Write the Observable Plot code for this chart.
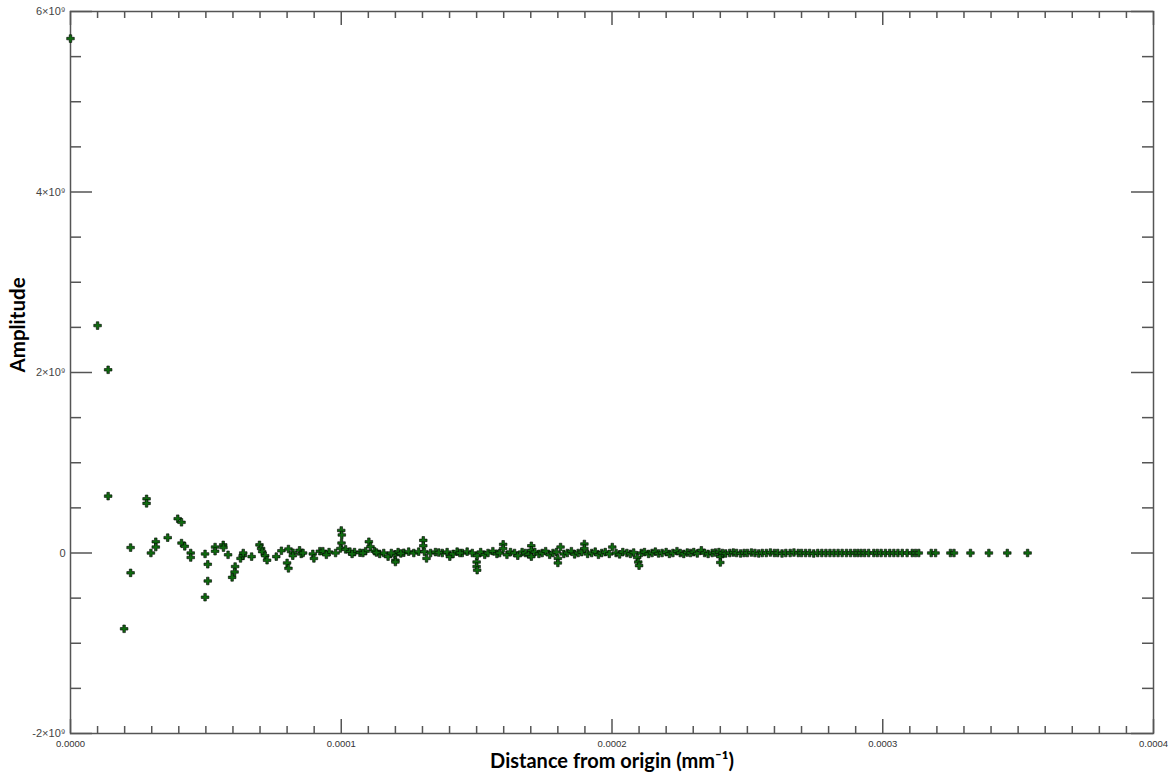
<!DOCTYPE html>
<html>
<head>
<meta charset="utf-8">
<script src="https://cdn.jsdelivr.net/npm/d3@7"></script>
<script src="https://cdn.jsdelivr.net/npm/@observablehq/plot@0.6"></script>
<style>
  html, body { margin: 0; padding: 0; background: #fff; }
  #chart svg { display: block; }
</style>
</head>
<body>
<div id="chart"></div>
<script>
// Distance from origin, in units of 1e-5 mm^-1 ; amplitude in units of 1e9
const earlyDist = [
  0, 1.00, 1.39, 1.39, 1.98, 2.22, 2.22, 2.81, 2.81, 2.97,
  3.15, 3.15, 3.59, 3.96, 4.10, 4.10, 4.22, 4.44, 4.44, 4.97,
  5.07, 5.07, 4.97, 5.34, 5.34, 5.64, 5.65, 5.82, 6.08, 6.06,
  5.97, 6.28, 6.36, 6.38, 6.69, 6.98, 7.04, 7.08, 7.19, 7.26,
  7.60, 7.79, 8.05, 8.22, 8.21, 8.00, 8.05, 8.46, 8.52, 8.59,
  8.95, 8.99, 9.21, 9.32, 9.55, 9.79, 10.00, 10.02, 10.01, 9.97,
  10.16, 10.32, 10.49, 10.69, 10.90, 11.02, 11.08, 11.23, 11.42, 11.57,
  11.73, 11.98, 12.00, 12.00, 12.10, 12.31, 12.49, 12.68, 12.86, 13.03,
  13.03, 13.07, 13.15, 13.30, 13.48, 13.73, 13.91, 14.01, 14.13, 14.28,
  14.47, 14.65, 14.84, 15.00, 15.00, 15.02, 15.02,
  9.45, 10.40, 10.80, 11.30, 11.85, 12.20, 13.60, 14.38
];
const earlyAmp = [
  5.70, 2.52, 2.03, 0.63, -0.84, 0.06, -0.22, 0.60, 0.55, 0.00,
  0.125, 0.066, 0.17, 0.38, 0.34, 0.11, 0.074, 0.00, -0.05, -0.01,
  -0.125, -0.31, -0.49, 0.066, 0.02, 0.09, 0.06, -0.02, -0.15, -0.21,
  -0.27, -0.06, -0.03, 0.00, -0.04, 0.09, 0.05, 0.015, -0.03, -0.08,
  -0.04, 0.025, 0.044, 0.003, -0.03, -0.11, -0.17, 0.03, -0.01, 0.00,
  -0.01, -0.06, 0.02, 0.02, 0.01, 0.00, 0.25, 0.20, 0.11, 0.05,
  0.04, 0.015, 0.01, 0.003, 0.02, 0.125, 0.07, 0.02, -0.01, 0.00,
  -0.04, -0.015, -0.08, -0.10, 0.01, 0.003, 0.015, 0.00, 0.015, 0.14,
  0.08, 0.015, -0.06, 0.00, 0.01, 0.00, 0.01, -0.04, -0.01, 0.015,
  0.00, 0.015, 0.00, -0.10, -0.15, -0.19, -0.03,
  -0.02, -0.01, 0.00, 0.005, 0.00, -0.005, 0.005, 0.00
];
const midDist = [
  15.15, 15.30, 15.42, 15.60, 15.75, 15.85, 15.98, 15.98, 16.12, 16.25,
  16.40, 16.52, 16.68, 16.80, 16.92, 17.02, 17.02, 17.02, 17.15, 17.30,
  17.42, 17.55, 17.70, 17.82, 17.95, 18.00, 18.00, 18.10, 18.22, 18.35,
  18.50, 18.62, 18.75, 18.88, 18.98, 18.98, 19.10, 19.25, 19.38, 19.50,
  19.62, 19.75, 19.90, 20.01, 20.15, 20.28, 20.40, 20.55, 20.68, 20.80,
  20.93, 20.97, 21.00, 21.08, 21.20, 21.35, 21.48, 21.60, 21.72, 21.85,
  22.00, 22.12, 22.25, 22.40, 22.52, 22.65, 22.78, 22.90, 23.02, 23.15,
  23.30, 23.42, 23.55, 23.70, 23.82, 23.95, 24.00, 24.00, 24.08, 24.20,
  24.35, 24.48, 24.60, 24.75, 24.88, 25.00, 25.15, 25.28, 25.42, 25.55,
  25.70, 25.85, 26.00, 26.12, 26.28, 26.42, 26.58, 26.72, 26.88, 27.00,
  27.15, 27.30, 27.45, 27.60, 27.75, 27.90, 28.05, 28.20, 28.35
];
const midAmp = [
  0.01, -0.02, 0.00, 0.02, -0.01, 0.00, 0.096, 0.05, -0.02, 0.01,
  0.00, -0.03, 0.01, 0.00, -0.015, 0.08, 0.03, -0.04, 0.01, -0.01,
  0.00, 0.02, -0.02, 0.00, 0.01, -0.06, -0.11, 0.066, -0.01, 0.00,
  0.02, -0.015, 0.00, 0.01, 0.10, 0.05, -0.01, 0.00, 0.015, -0.02,
  0.00, 0.01, -0.01, 0.066, 0.00, -0.015, 0.01, 0.00, -0.01, 0.005,
  -0.05, -0.10, -0.14, 0.00, 0.01, -0.01, 0.00, 0.015, -0.005, 0.00,
  0.01, -0.01, 0.00, 0.02, 0.00, -0.01, 0.005, 0.00, 0.01, -0.005,
  0.03, 0.00, -0.01, 0.00, 0.005, 0.01, -0.04, -0.105, 0.00, -0.005,
  0.00, 0.005, 0.00, -0.005, 0.00, 0.00, 0.005, 0.00, -0.005, 0.00,
  0.00, 0.005, 0.00, 0.00, -0.005, 0.00, 0.00, 0.005, 0.00, 0.00,
  0.00, 0.00, -0.005, 0.00, 0.00, 0.00, 0.00, 0.00, 0.00
];
const tailDist = [
  28.50, 28.66, 28.81, 28.96, 29.08, 29.20, 29.33, 29.48, 29.67, 29.80,
  29.94, 30.10, 30.26, 30.41, 30.56, 30.72, 30.90, 31.09, 31.21, 31.33,
  31.79, 31.95, 32.50, 32.63, 33.24, 33.92, 34.60, 35.35
];
const tailAmp = [
  0, 0, 0, 0, 0, 0, 0, 0, 0, 0,
  0, 0, 0, 0, 0, 0, 0, 0, 0, 0,
  0, 0, 0, 0, 0, 0, 0, 0
];

const xMajorTicks = [0, 0.0001, 0.0002, 0.0003, 0.0004];
const yMajorTicks = [-2e9, 0, 2e9, 4e9, 6e9];
const xTitle = "Distance from origin (mm⁻¹)";
const yTitle = "Amplitude";

const dists = [...earlyDist, ...midDist, ...tailDist];
const amps = [...earlyAmp, ...midAmp, ...tailAmp];
const points = dists.map((d, i) => ({dist: d * 1e-5, amp: amps[i] * 1e9}));

const xMinorTicks = d3.range(0, 41).map(i => i * 1e-5).filter(v => !xMajorTicks.some(m => Math.abs(m - v) < 1e-9));
const yMinorTicks = d3.range(-4, 13).map(i => i * 0.5e9).filter(v => !yMajorTicks.includes(v));

const W = 1174, H = 778, ML = 70, MR = 21, MT = 11, MB = 45;
const FW = W - ML - MR, FH = H - MT - MB;
const tickColor = "#555";

const fmtY = d => d === 0 ? "0" : `${d / 1e9}×10⁹`;

const chart = Plot.plot({
  width: W, height: H,
  marginLeft: ML, marginRight: MR, marginTop: MT, marginBottom: MB,
  style: {background: "#fff", fontFamily: "Liberation Sans, Arial, sans-serif"},
  x: {domain: [0, 0.0004]},
  y: {domain: [-2e9, 6e9]},
  marks: [
    Plot.ruleY(yMajorTicks, {stroke: tickColor, strokeWidth: 1.5, insetRight: FW - 22}),
    Plot.ruleY(yMinorTicks, {stroke: tickColor, strokeWidth: 1.5, insetRight: FW - 11}),
    Plot.ruleY(yMajorTicks, {stroke: tickColor, strokeWidth: 1.5, insetLeft: FW - 22}),
    Plot.ruleY(yMinorTicks, {stroke: tickColor, strokeWidth: 1.5, insetLeft: FW - 11}),
    Plot.ruleX(xMajorTicks, {stroke: tickColor, strokeWidth: 1.5, insetTop: FH - 14}),
    Plot.ruleX(xMinorTicks, {stroke: tickColor, strokeWidth: 1.5, insetTop: FH - 7}),
    Plot.ruleX(xMajorTicks, {stroke: tickColor, strokeWidth: 1.5, insetBottom: FH - 14}),
    Plot.ruleX(xMinorTicks, {stroke: tickColor, strokeWidth: 1.5, insetBottom: FH - 7}),
    Plot.frame({stroke: tickColor, strokeWidth: 1.5}),
    Plot.axisY(yMajorTicks, {tickSize: 0, tickPadding: 5, tickFormat: fmtY, fontSize: 11, color: "#444", label: null}),
    Plot.axisX(xMajorTicks, {tickSize: 0, tickPadding: 7, tickFormat: d => d.toFixed(4), fontSize: 9.5, color: "#333", label: null}),
    Plot.dot(points, {x: "dist", y: "amp", symbol: "cross", r: 3.2, fill: "#0f6a0f", stroke: "#000", strokeWidth: 0.6}),
    Plot.text([xTitle], {frameAnchor: "bottom", dy: 34, fontSize: 20, fontWeight: "bold", fontFamily: "Lato, Open Sans, sans-serif", fill: "#000"}),
    Plot.text([yTitle], {frameAnchor: "left", dx: -52, rotate: -90, fontSize: 20.5, fontWeight: "bold", fontFamily: "Lato, Open Sans, sans-serif", fill: "#000"})
  ]
});
document.getElementById("chart").appendChild(chart);
</script>
</body>
</html>
